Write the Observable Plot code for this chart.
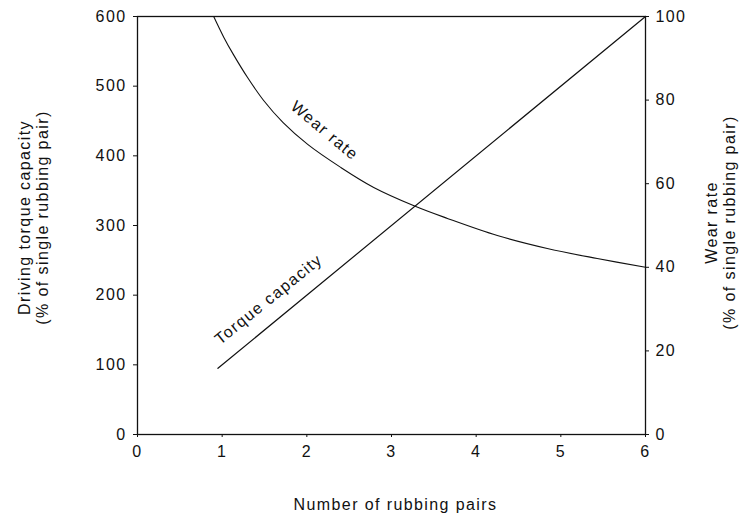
<!DOCTYPE html>
<html><head><meta charset="utf-8">
<script src="https://cdn.jsdelivr.net/npm/d3@7"></script>
<script src="https://cdn.jsdelivr.net/npm/@observablehq/plot@0.6"></script>
<style>
body{margin:0;background:#fff;}
svg text{letter-spacing:1.4px;}
</style>
</head><body><div id="chart"></div>
<script>
// Data
const torquePairs = [0.95, 6];
const torqueValues = [95, 600];           // % of single rubbing pair (left axis)
const wearPairs = [0.90, 1.02, 1.13, 1.30, 1.49, 1.72, 2.01, 2.40, 2.79, 3.28, 3.66, 4.25, 4.84, 5.43, 6.00];
const wearValues = [100, 95, 91.0, 85.4, 79.9, 74.6, 69.4, 63.9, 59.1, 54.6, 51.7, 47.6, 44.5, 42.1, 40]; // % (right axis)
const xTicks = [0, 1, 2, 3, 4, 5, 6];
const leftTicks = [0, 100, 200, 300, 400, 500, 600];
const rightTicks = [0, 20, 40, 60, 80, 100];
const curveLabels = [
  {x: 1.55, y: 194, text: "Torque capacity", rotate: -39},
  {x: 2.21, y: 436, text: "Wear rate", rotate: 40}
];

const RIGHT_FACTOR = 6; // right axis 0–100 spans the same height as left 0–600
const torque = torquePairs.map((x, i) => ({x, y: torqueValues[i]}));
const wear = wearPairs.map((x, i) => ({x, y: wearValues[i] * RIGHT_FACTOR}));

const FS = 16;
const chart = Plot.plot({
  width: 749,
  height: 519,
  marginLeft: 137,
  marginRight: 104,
  marginTop: 16,
  marginBottom: 85,
  style: {fontFamily: "'Liberation Sans', Arial, sans-serif", fontSize: FS + "px", color: "#111", background: "#fff"},
  x: {domain: [0, 6]},
  y: {domain: [0, 600]},
  marks: [
    Plot.frame({stroke: "#111", strokeWidth: 1.3}),
    Plot.axisX(xTicks, {tickSize: 3, tickPadding: 8, label: null, fontSize: FS}),
    Plot.axisY(leftTicks, {anchor: "left", tickSize: 4, tickPadding: 7, label: null, fontSize: FS}),
    Plot.axisY(rightTicks.map(d => d * RIGHT_FACTOR), {anchor: "right", tickSize: 3, tickPadding: 7, tickFormat: d => d / RIGHT_FACTOR, label: null, fontSize: FS}),
    Plot.line(torque, {x: "x", y: "y", stroke: "#111", strokeWidth: 1.2}),
    Plot.line(wear, {x: "x", y: "y", stroke: "#111", strokeWidth: 1.1, curve: "catmull-rom"}),
    Plot.text(curveLabels, {x: "x", y: "y", text: "text", rotate: "rotate", fontSize: FS, fill: "#111"}),
    Plot.text(["Driving torque capacity\n(% of single rubbing pair)"], {frameAnchor: "left", dx: -104, dy: -8, rotate: -90, textAnchor: "middle", lineAnchor: "middle", fontSize: FS, lineHeight: 1.08, fill: "#111"}),
    Plot.text(["Wear rate\n(% of single rubbing pair)"], {frameAnchor: "right", dx: 75, dy: -3, rotate: -90, textAnchor: "middle", lineAnchor: "middle", fontSize: FS, lineHeight: 1.1, fill: "#111"}),
    Plot.text(["Number of rubbing pairs"], {frameAnchor: "bottom", dx: 4, dy: 70, lineAnchor: "middle", textAnchor: "middle", fontSize: FS, fill: "#111"})
  ]
});
document.getElementById("chart").appendChild(chart);
</script>
</body></html>
